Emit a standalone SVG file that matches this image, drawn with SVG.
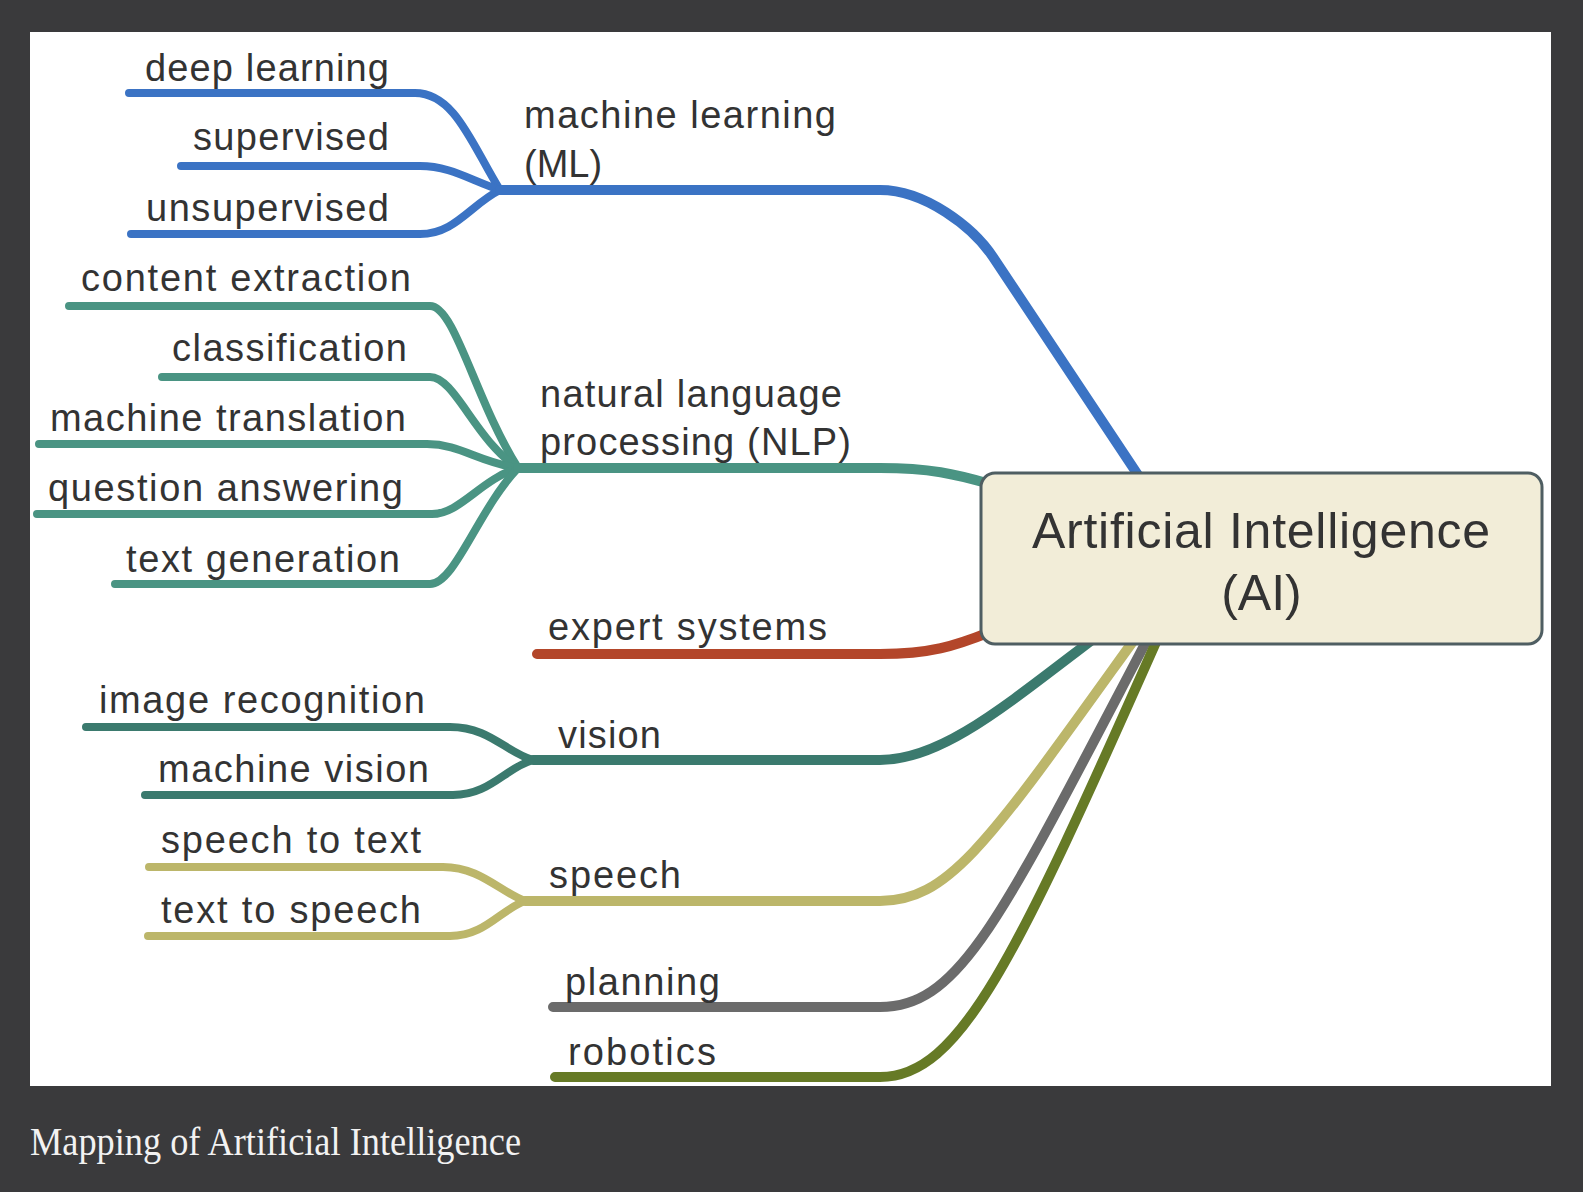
<svg xmlns="http://www.w3.org/2000/svg" width="1583" height="1192" viewBox="0 0 1583 1192">
  <style>
    .lbl { font-family: "Liberation Sans", Arial, Helvetica, sans-serif; font-size: 38px; fill: #333333; }
    .title { font-family: "Liberation Sans", Arial, Helvetica, sans-serif; font-size: 50px; fill: #333333; }
    .cap { font-family: "Liberation Serif", "Times New Roman", serif; font-size: 39px; fill: #f2f2f2; }
    .c { fill: none; stroke-linecap: round; stroke-linejoin: round; stroke-width: 8; }
    .m { stroke-width: 10; }
    .ml { stroke: #3b73c4; }
    .nlp { stroke: #4a9483; }
    .exp { stroke: #b3462a; }
    .vis { stroke: #3b7a6e; }
    .sp { stroke: #bcb66a; }
    .pl { stroke: #6b6b6b; }
    .rb { stroke: #667a26; }
  </style>
  <rect x="0" y="0" width="1583" height="1192" fill="#3a3a3c"/>
  <rect x="30" y="32" width="1521" height="1054" fill="#ffffff"/>

  <g id="connectors">
    <!-- ML -->
    <path class="c ml" d="M 129 93 L 415 93 C 455 93, 472 145, 500 190"/>
    <path class="c ml" d="M 181 166 L 420 166 C 450 166, 470 180, 500 190"/>
    <path class="c ml" d="M 131 234 L 420 234 C 455 234, 470 205, 500 190"/>
    <path class="c m ml" d="M 500 190 L 880 190 C 925 190, 973 227, 993 257 L 1140 478"/>
    <!-- NLP -->
    <path class="c nlp" d="M 69 306 L 430 306 C 455 306, 475 400, 518 468"/>
    <path class="c nlp" d="M 162 377 L 430 377 C 455 377, 475 440, 518 468"/>
    <path class="c nlp" d="M 39 444 L 427 444 C 460 444, 478 462, 518 468"/>
    <path class="c nlp" d="M 37 514 L 432 514 C 460 514, 480 480, 518 468"/>
    <path class="c nlp" d="M 115 584 L 430 584 C 455 584, 478 510, 518 468"/>
    <path class="c m nlp" d="M 518 468 L 880 468 C 930 468, 955 474, 990 484"/>
    <!-- expert systems -->
    <path class="c m exp" d="M 537 654 L 880 654 C 930 654, 955 646, 990 632"/>
    <!-- vision -->
    <path class="c vis" d="M 86 727 L 450 727 C 490 727, 505 752, 533 760"/>
    <path class="c vis" d="M 145 795 L 453 795 C 490 795, 505 768, 533 760"/>
    <path class="c m vis" d="M 533 760 L 880 760 C 940 760, 1000 710, 1092 640"/>
    <!-- speech -->
    <path class="c sp" d="M 149 867 L 443 867 C 480 867, 500 892, 525 901"/>
    <path class="c sp" d="M 148 936 L 450 936 C 485 936, 500 910, 525 901"/>
    <path class="c m sp" d="M 525 901 L 880 901 C 950 901, 990 840, 1134 640"/>
    <!-- planning -->
    <path class="c m pl" d="M 553 1007 L 880 1007 C 960 1007, 1000 920, 1147 640"/>
    <!-- robotics -->
    <path class="c m rb" d="M 555 1077 L 880 1077 C 960 1077, 1015 960, 1157 640"/>
  </g>

  <g id="node-ai">
    <rect x="981" y="473" width="561" height="171" rx="14" ry="14" fill="#f2edd8" stroke="#4f5e62" stroke-width="3"/>
    <text class="title" x="1032" y="548" textLength="458">Artificial Intelligence</text>
    <text class="title" x="1261.5" y="610" text-anchor="middle">(AI)</text>
  </g>

  <g id="node-ml">
    <text class="lbl" x="524" y="128" textLength="312">machine learning</text>
    <text class="lbl" x="524" y="177">(ML)</text>
  </g>
  <g id="node-deep-learning"><text class="lbl" x="145" y="81" textLength="244">deep learning</text></g>
  <g id="node-supervised"><text class="lbl" x="193" y="150" textLength="196">supervised</text></g>
  <g id="node-unsupervised"><text class="lbl" x="146" y="221" textLength="243">unsupervised</text></g>

  <g id="node-nlp">
    <text class="lbl" x="540" y="407" textLength="302">natural language</text>
    <text class="lbl" x="540" y="455" textLength="311">processing (NLP)</text>
  </g>
  <g id="node-content-extraction"><text class="lbl" x="81" y="291" textLength="330">content extraction</text></g>
  <g id="node-classification"><text class="lbl" x="172" y="361" textLength="235">classification</text></g>
  <g id="node-machine-translation"><text class="lbl" x="50" y="431" textLength="356">machine translation</text></g>
  <g id="node-question-answering"><text class="lbl" x="48" y="501" textLength="355">question answering</text></g>
  <g id="node-text-generation"><text class="lbl" x="126" y="572" textLength="274">text generation</text></g>

  <g id="node-expert-systems"><text class="lbl" x="548" y="640" textLength="279">expert systems</text></g>

  <g id="node-vision"><text class="lbl" x="558" y="748" textLength="103">vision</text></g>
  <g id="node-image-recognition"><text class="lbl" x="99" y="713" textLength="326">image recognition</text></g>
  <g id="node-machine-vision"><text class="lbl" x="158" y="782" textLength="271">machine vision</text></g>

  <g id="node-speech"><text class="lbl" x="549" y="888" textLength="132">speech</text></g>
  <g id="node-speech-to-text"><text class="lbl" x="161" y="853" textLength="260">speech to text</text></g>
  <g id="node-text-to-speech"><text class="lbl" x="161" y="923" textLength="260">text to speech</text></g>

  <g id="node-planning"><text class="lbl" x="565" y="995" textLength="155">planning</text></g>
  <g id="node-robotics"><text class="lbl" x="568" y="1065" textLength="148">robotics</text></g>

  <text class="cap" x="30" y="1155" textLength="491" lengthAdjust="spacingAndGlyphs">Mapping of Artificial Intelligence</text>
</svg>
